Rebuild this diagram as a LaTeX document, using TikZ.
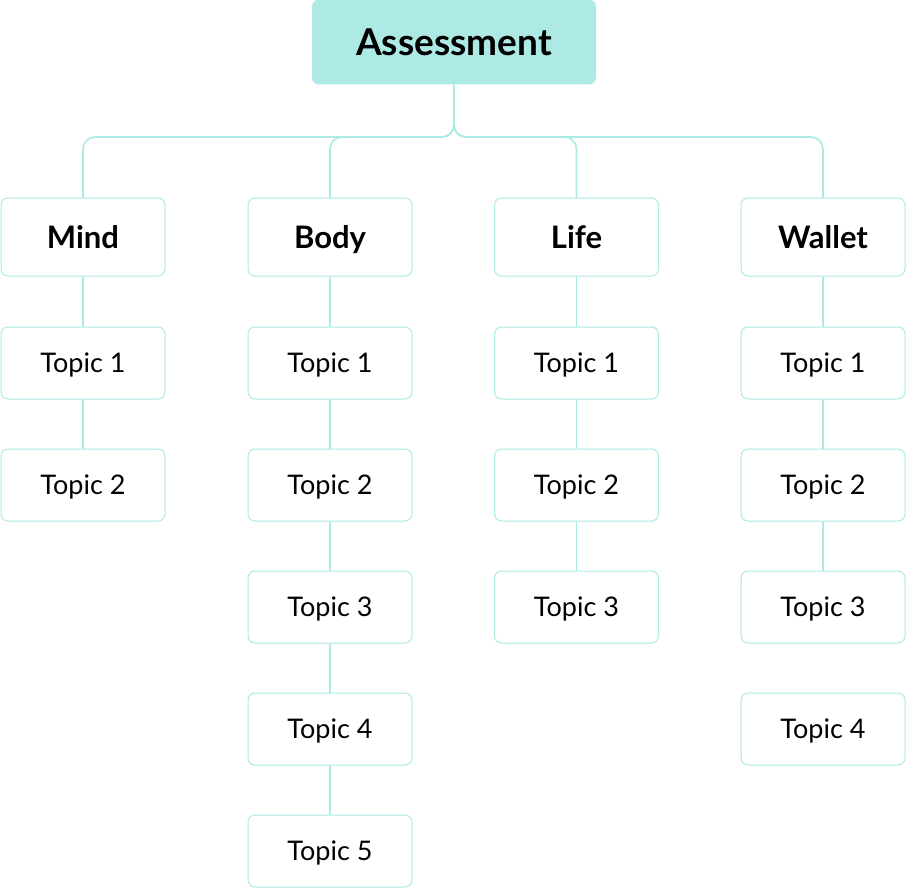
\documentclass[tikz,border=0pt]{standalone}
\usepackage{fontspec}
\setmainfont{Lato}
\definecolor{mint}{HTML}{ADEAE5}
\tikzset{
  box/.style={draw=mint, line width=1pt, rounded corners=7pt, fill=white,
    minimum width=164pt, inner sep=0pt, text depth=0pt},
  head/.style={box, minimum height=78pt, text height=22pt,
    font=\fontsize{31}{31}\selectfont\bfseries},
  topic/.style={box, minimum height=72pt, text height=19.5pt,
    font=\fontsize{27}{27}\selectfont},
  link/.style={mint, line width=1.6pt, rounded corners=12pt}
}
\begin{document}
\begin{tikzpicture}[x=1pt,y=-1pt]
  \useasboundingbox (0,0) rectangle (908,888);
  % Wurzel
  \node[box, fill=mint, draw=none, minimum width=284pt, minimum height=85pt,
    text height=26.5pt, font=\fontsize{37}{37}\selectfont\bfseries] (root) at (454,42) {Assessment};
  % Kategorien
  \node[head] (mind) at (83,237) {Mind};
  \node[head] (body) at (330,237) {Body};
  \node[head] (life) at (576.5,237) {Life};
  \node[head] (wallet) at (823,237) {Wallet};
  % Topics
  \foreach \n/\x/\k in {mind/83/2, body/330/5, life/576.5/3, wallet/823/4}
    \foreach \i in {1,...,\k}
      \node[topic] (\n\i) at (\x,241+122*\i) {Topic \i};
  % Verbindungen
  \foreach \n in {mind,body,life,wallet}
    \draw[link] (root.south) -- ++(0,52) -| (\n.north);
  \draw[link] (mind.south) -- (mind1.north) (mind1.south) -- (mind2.north);
  \draw[link] (body.south) -- (body1.north) (body1.south) -- (body2.north)
    (body2.south) -- (body3.north) (body3.south) -- (body4.north)
    (body4.south) -- (body5.north);
  \draw[link] (life.south) -- (life1.north) (life1.south) -- (life2.north)
    (life2.south) -- (life3.north);
  \draw[link] (wallet.south) -- (wallet1.north) (wallet1.south) -- (wallet2.north)
    (wallet2.south) -- (wallet3.north);
\end{tikzpicture}
\end{document}
